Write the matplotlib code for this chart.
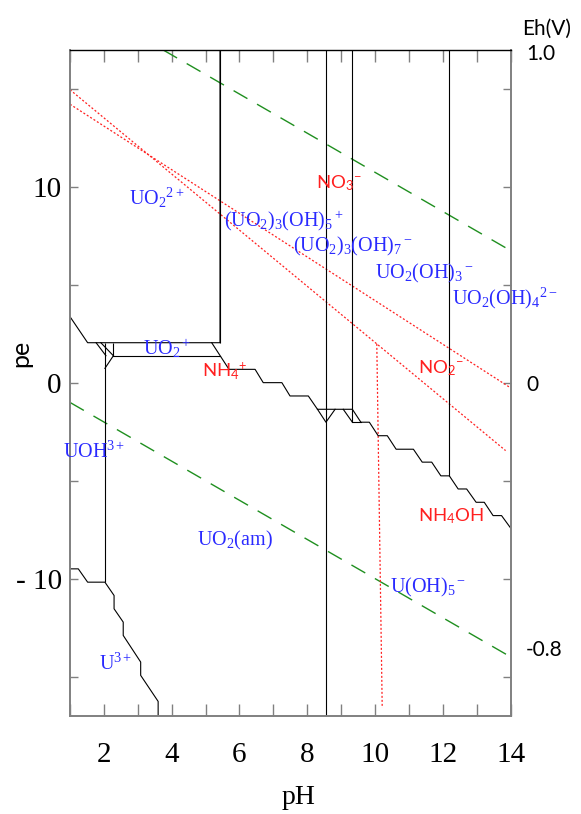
import matplotlib
matplotlib.use("Agg")
import matplotlib.pyplot as plt
from matplotlib.ticker import FixedLocator, MultipleLocator

plt.rcParams["mathtext.fontset"] = "custom"
plt.rcParams["mathtext.rm"] = "Liberation Serif"
plt.rcParams["mathtext.it"] = "Liberation Serif:italic"
plt.rcParams["mathtext.bf"] = "Liberation Serif:bold"
plt.rcParams["mathtext.sf"] = "Lato"
plt.rcParams["mathtext.default"] = "rm"

# ---- axis ranges -------------------------------------------------------
PH_LIM = (1.0, 14.0)
PE_LIM = (-17.0, 17.0)
EH_PER_PE = 0.05916          # V per pe unit at 25 C

pe_tick_major = [-10, 0, 10]
pe_tick_labels = ["- 10", "0", "10"]
pe_tick_minor = [-15, -5, 5, 15]
eh_ticks = [1.0, 0.0, -0.8]
eh_tick_labels = ["1.0", "0", "-0.8"]

# ---- water stability limits (green dashed) -----------------------------
o2_ph = [3.75, 14.0]
o2_pe = [17.0, 6.75]
h2_ph = [1.0, 14.0]
h2_pe = [-1.0, -14.0]

# ---- nitrogen boundaries (red dotted) ----------------------------------
no3_nh4_ph = [1.0, 13.85]
no3_nh4_pe = [14.97, -3.46]
no3_no2_ph = [1.0, 14.0]
no3_no2_pe = [14.23, -0.26]
nh4_nh4oh_ph = [10.05, 10.21]
nh4_nh4oh_pe = [1.99, -16.6]

# ---- uranium boundaries (black) ----------------------------------------
# U(VI)/UO2+ box
uo2_box_ph = [1.0, 1.52, 5.425, 5.425]
uo2_box_pe = [3.38, 2.05, 2.05, 17.0]
# lower edge of the UO2+ field
uo2p_low_ph = [2.28, 5.43]
uo2p_low_pe = [1.385, 1.385]
# UO2(am) upper boundary
uo2am_ph = [5.18, 5.69, 6.46, 6.70, 7.25, 7.49, 8.03, 8.30, 9.33, 9.58,
            9.83, 10.09, 10.36, 10.62, 11.13, 11.39, 11.67, 11.94, 12.19,
            12.45, 12.70, 12.98, 13.22, 13.48, 13.73, 14.0]
uo2am_pe = [2.05, 0.69, 0.69, 0.01, 0.01, -0.67, -0.67, -1.35, -1.35, -2.01,
            -2.01, -2.70, -2.70, -3.39, -3.39, -4.05, -4.05, -4.75, -4.75,
            -5.42, -5.42, -6.10, -6.10, -6.78, -6.78, -7.42]
# U3+ / UOH3+ boundary
u3_ph = [1.0, 1.245, 1.52, 2.03, 2.30, 2.30, 2.57, 2.57, 3.085, 3.085,
         3.60, 3.60]
u3_pe = [-9.50, -9.50, -10.18, -10.18, -10.86, -11.54, -12.22, -12.90,
         -14.26, -14.94, -16.27, -17.0]
# small junction segments
junc_ph = [[1.77, 2.06], [1.91, 2.28], [2.28, 2.03],
           [8.30, 8.55, 8.82], [9.06, 9.33], [9.33, 9.58]]
junc_pe = [[2.05, 1.385], [2.05, 1.385], [1.385, 0.74],
           [-1.35, -2.01, -1.35], [-1.35, -2.01], [-2.01, -2.01]]
# vertical boundaries: pH, upper pe, lower pe
vert_ph = [5.425, 8.55, 9.33, 12.19, 2.03, 2.28]
vert_top = [17.0, 17.0, 17.0, 17.0, 2.05, 2.05]
vert_bot = [2.05, -17.0, -2.01, -4.75, -10.18, 1.385]

# ---- field labels ------------------------------------------------------
u_labels = [r"UO$_2$$^{2+}$", r"(UO$_2$)$_3$(OH)$_5$$^+$",
            r"(UO$_2$)$_3$(OH)$_7$$^-$", r"UO$_2$(OH)$_3$$^-$",
            r"UO$_2$(OH)$_4$$^{2-}$", r"UO$_2$$^+$", r"UOH$^{3+}$",
            r"UO$_2$(am)", r"U(OH)$_5$$^-$", r"U$^{3+}$"]
u_label_ph = [2.74, 5.54, 7.58, 10.0, 12.26, 3.15, 0.785, 4.74, 10.44, 1.855]
u_label_pe = [9.07, 7.97, 6.69, 5.35, 4.02, 1.42, -3.83, -8.31, -10.71, -14.65]

n_labels = [r"NH$_\mathsf{4}$$^\mathsf{+}$", r"NO$_\mathsf{3}$$^\mathsf{-}$",
            r"NO$_\mathsf{2}$$^\mathsf{-}$", r"NH$_\mathsf{4}$OH"]
n_label_ph = [4.89, 8.26, 11.27, 11.27]
n_label_pe = [0.31, 9.94, 0.50, -7.08]

BLACK = "black"
GREEN = "#1f8f1f"
RED = "#ff2020"
BLUE = "#2a2aff"
AXIS_GRAY = "#808080"

fig = plt.figure(figsize=(5.81, 8.14), dpi=100)
ax = fig.add_axes([70 / 581, 1 - 715.7 / 814, 440.7 / 581, 665.7 / 814])
ax.set_xlim(*PH_LIM)
ax.set_ylim(*PE_LIM)

lw = 0.8
ax.plot(o2_ph, o2_pe, color=GREEN, lw=1.0, ls=(0, (11.5, 8)))
ax.plot(h2_ph, h2_pe, color=GREEN, lw=1.0, ls=(0, (11.5, 8)))

dot = (0, (1.6, 1.6))
ax.plot(no3_nh4_ph, no3_nh4_pe, color=RED, lw=0.9, ls=dot)
ax.plot(no3_no2_ph, no3_no2_pe, color=RED, lw=0.9, ls=dot)
ax.plot(nh4_nh4oh_ph, nh4_nh4oh_pe, color=RED, lw=0.9, ls=dot)

ax.plot(uo2_box_ph, uo2_box_pe, color=BLACK, lw=lw)
ax.plot(uo2p_low_ph, uo2p_low_pe, color=BLACK, lw=lw)
ax.plot(uo2am_ph, uo2am_pe, color=BLACK, lw=lw)
ax.plot(u3_ph, u3_pe, color=BLACK, lw=lw)
for xs, ys in zip(junc_ph, junc_pe):
    ax.plot(xs, ys, color=BLACK, lw=lw)
ax.vlines(vert_ph, vert_bot, vert_top, color=BLACK, lw=lw)

for s, x, y in zip(u_labels, u_label_ph, u_label_pe):
    ax.text(x, y, s, color=BLUE, fontsize=14.5, ha="left", va="baseline",
            fontfamily="Liberation Serif", clip_on=False)
for s, x, y in zip(n_labels, n_label_ph, n_label_pe):
    ax.text(x, y, s, color=RED, fontsize=13.3, ha="left", va="baseline",
            fontfamily="Lato")

# ---- axes styling ------------------------------------------------------
for side in ("left", "right", "bottom"):
    ax.spines[side].set_color(AXIS_GRAY)
    ax.spines[side].set_linewidth(1.4)
ax.spines["top"].set_color(BLACK)
ax.spines["top"].set_linewidth(1.0)

ax.xaxis.set_major_locator(MultipleLocator(2))
ax.xaxis.set_minor_locator(MultipleLocator(1))
ax.tick_params(axis="x", which="both", direction="in", length=8.3, width=1.0,
               color=AXIS_GRAY, top=True, pad=19)
ax.tick_params(axis="x", which="major", labelsize=21)
for lab in ax.get_xticklabels():
    lab.set_fontfamily("Liberation Serif")

ax.yaxis.set_major_locator(FixedLocator(pe_tick_major))
ax.yaxis.set_minor_locator(FixedLocator(pe_tick_minor))
ax.set_yticklabels(pe_tick_labels, fontfamily="Liberation Serif", fontsize=21)
ax.tick_params(axis="y", which="both", direction="in", length=6.1, width=1.0,
               color=AXIS_GRAY, right=True, pad=6)

eh = ax.secondary_yaxis("right", functions=(lambda p: p * EH_PER_PE,
                                            lambda e: e / EH_PER_PE))
eh.set_yticks(eh_ticks)
eh.set_yticklabels(eh_tick_labels, fontfamily="Lato", fontsize=15)
eh.tick_params(length=0, pad=11)
eh.spines["right"].set_visible(False)

fig.text(20.5 / 581, 1 - 353 / 814, "pe", rotation=90, ha="center",
         va="center", fontfamily="Lato", fontsize=18)
fig.text(299 / 581, 1 - 798 / 814, "pH", ha="center", va="center",
         fontfamily="Liberation Serif", fontsize=20)
fig.text(522 / 581, 1 - 29 / 814, "Eh(V)", ha="left", va="center",
         fontfamily="Lato", fontsize=15)

fig.savefig("out.png", dpi=100)
